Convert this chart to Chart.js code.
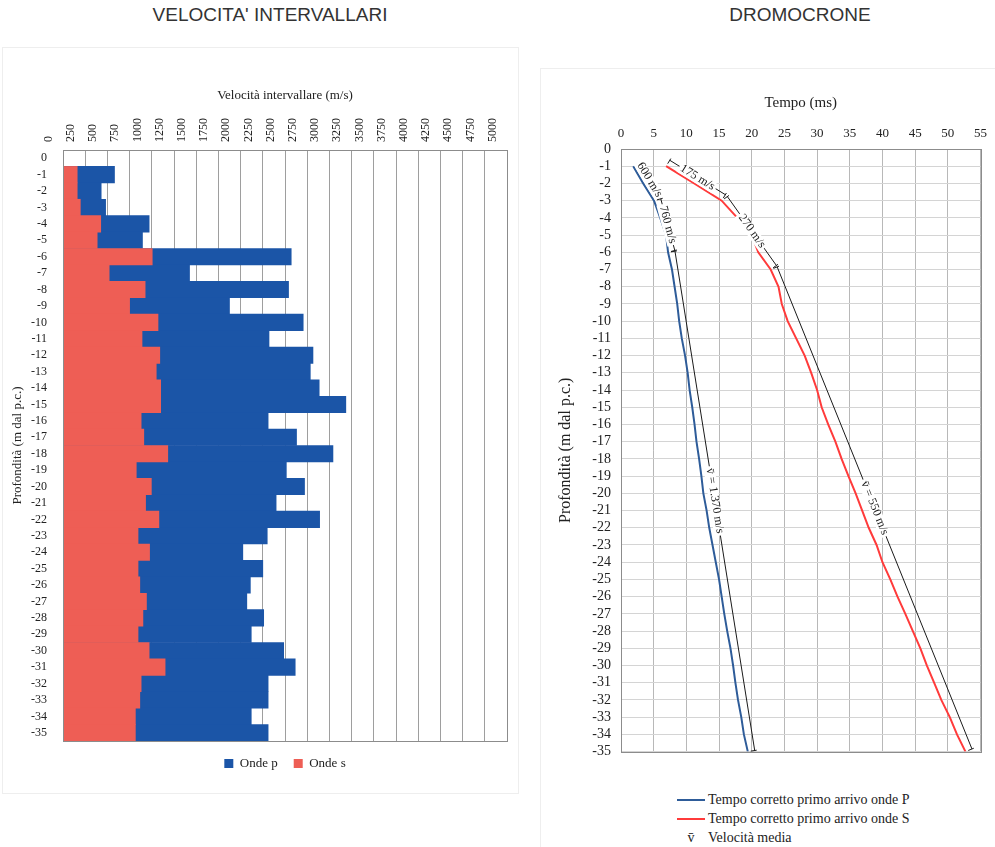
<!DOCTYPE html>
<html lang="it">
<head>
  <meta charset="UTF-8" />
  <title>Velocità intervallari e dromocrone</title>
  <script src="https://cdn.jsdelivr.net/npm/chart.js"></script>
  <style>
    body, html {
      margin: 0;
      padding: 0;
      width: 995px;
      height: 847px;
      background: #fff;
      overflow: hidden;
      font-family: 'Liberation Serif', 'Times New Roman', serif;
      color: #222;
    }
    .titolo {
      position: absolute;
      top: 4px;
      font-family: 'Liberation Sans Narrow', 'Arial Narrow', 'Liberation Sans', sans-serif;
      font-stretch: condensed;
      font-size: 19px;
      color: #333;
      transform: translateX(-50%);
      white-space: nowrap;
    }
    .cornice {
      position: absolute;
      border: 1px solid #eeeeee;
    }
    .box {
      position: absolute;
    }
    #legendaDx {
      position: absolute;
      left: 677px;
      top: 790px;
      font-size: 14px;
      line-height: 19px;
    }
    #legendaDx .riga {
      display: flex;
      align-items: center;
      white-space: nowrap;
    }
    #legendaDx .linea {
      display: inline-block;
      width: 28px;
      height: 2px;
      margin-right: 3px;
    }
    #legendaDx .simbolo {
      display: inline-block;
      width: 28px;
      margin-right: 3px;
      text-align: center;
    }
  </style>
</head>
<body>
  <div class="cornice" style="left:2px; top:47px; width:515px; height:745px;"></div>
  <div class="cornice" style="left:540px; top:68px; width:460px; height:790px;"></div>

  <div class="titolo" style="left:270px;">VELOCITA' INTERVALLARI</div>
  <div class="titolo" style="left:800px;">DROMOCRONE</div>

  <div class="box" style="left:0; top:80px; width:520px; height:710px;">
    <canvas id="graficoVelocita"></canvas>
  </div>

  <div class="box" style="left:540px; top:80px; width:455px; height:690px;">
    <canvas id="graficoDromocrone"></canvas>
  </div>

  <div id="legendaDx">
    <div class="riga"><span class="linea" id="campioneP"></span>Tempo corretto primo arrivo onde P</div>
    <div class="riga"><span class="linea" id="campioneS"></span>Tempo corretto primo arrivo onde S</div>
    <div class="riga"><span class="simbolo">v&#772;</span>Velocità media</div>
  </div>

  <script>
    // Velocità intervallari (m/s) per metro di profondità
    const profonditaLabels = ['0', '-1', '-2', '-3', '-4', '-5', '-6', '-7', '-8', '-9', '-10',
      '-11', '-12', '-13', '-14', '-15', '-16', '-17', '-18', '-19', '-20',
      '-21', '-22', '-23', '-24', '-25', '-26', '-27', '-28', '-29', '-30',
      '-31', '-32', '-33', '-34', '-35'];
    const ondeP = [null, 580, 430, 480, 970, 895, 2570, 1425, 2540, 1875, 2705,
      2320, 2815, 2785, 2885, 3185, 2310, 2630, 3040, 2515, 2720,
      2400, 2890, 2300, 2025, 2250, 2110, 2070, 2260, 2120, 2485,
      2615, 2310, 2310, 2120, 2310];
    const ondeS = [null, 160, 160, 195, 425, 385, 1005, 520, 925, 750, 1070,
      890, 1090, 1050, 1100, 1100, 880, 910, 1180, 825, 995,
      930, 1080, 845, 975, 845, 865, 940, 900, 845, 970,
      1150, 880, 865, 815, 815];

    // Dromocrone: tempi corretti (ms) ai vari metri
    const profondita = [-1, -2, -3, -4, -5, -6, -7, -8, -9, -10,
      -11, -12, -13, -14, -15, -16, -17, -18, -19, -20,
      -21, -22, -23, -24, -25, -26, -27, -28, -29, -30,
      -31, -32, -33, -34, -35];
    const tempoP = [1.87, 3.4, 5.05, 6.0, 6.9, 7.2, 7.8, 8.2, 8.6, 8.9,
      9.3, 9.8, 10.2, 10.5, 10.9, 11.25, 11.55, 11.95, 12.3, 12.6,
      13.1, 13.5, 14.0, 14.5, 15.0, 15.4, 15.8, 16.25, 16.75, 17.15,
      17.5, 17.9, 18.4, 18.8, 19.4];
    const tempoS = [6.9, 11.2, 15.4, 17.8, 20.0, 21.0, 22.9, 24.1, 24.6, 25.5,
      26.8, 28.1, 29.1, 30.0, 30.7, 31.7, 32.8, 33.75, 34.8, 35.9,
      36.9, 37.9, 39.1, 40.0, 41.2, 42.3, 43.5, 44.65, 45.8, 46.8,
      47.9, 49.0, 50.3, 51.4, 52.7];

    // tratti con velocità indicata
    const trattiOnda = ['P', 'P', 'P', 'S', 'S', 'S'];
    const trattiDa = [-1, -3, -6, -1, -3, -7];
    const trattiA = [-3, -6, -35, -3, -7, -35];
    const trattiTesto = ['600 m/s', '760 m/s', 'v\u0304 = 1.370 m/s', '175 m/s', '270 m/s', 'v\u0304 = 550 m/s'];

    const BLU_P = '#1B55A7';
    const ROSSO_S = '#EE5E55';
    const LINEA_P = '#2E5C99';
    const LINEA_S = '#FF3B3B';

    document.getElementById('campioneP').style.background = LINEA_P;
    document.getElementById('campioneS').style.background = LINEA_S;

    Chart.defaults.font.family = "'Liberation Serif', 'Times New Roman', serif";
    Chart.defaults.color = '#222';
    Chart.defaults.animation = false;

    // cornice dell'area del grafico
    const cornice = {
      id: 'cornice',
      afterDraw(chart) {
        const a = chart.chartArea;
        const ctx = chart.ctx;
        ctx.save();
        ctx.strokeStyle = '#8c8c8c';
        ctx.lineWidth = 1;
        ctx.strokeRect(Math.round(a.left) + 0.5, Math.round(a.top) + 0.5,
          Math.round(a.right - a.left), Math.round(a.bottom - a.top));
        ctx.restore();
      }
    };

    new Chart(document.getElementById('graficoVelocita'), {
      type: 'bar',
      data: {
        labels: profonditaLabels,
        datasets: [{
          label: 'Onde p',
          data: ondeP,
          backgroundColor: BLU_P,
          order: 1
        }, {
          label: 'Onde s',
          data: ondeS,
          backgroundColor: ROSSO_S,
          order: 0
        }]
      },
      options: {
        indexAxis: 'y',
        responsive: true,
        maintainAspectRatio: false,
        datasets: {
          bar: {
            grouped: false,
            categoryPercentage: 1,
            barPercentage: 1,
            borderWidth: 0
          }
        },
        layout: { padding: { left: 0, right: 13, top: 0, bottom: 10 } },
        plugins: {
          tooltip: { enabled: false },
          legend: {
            position: 'bottom',
            fullSize: false,
            labels: {
              boxWidth: 9,
              boxHeight: 9,
              padding: 16,
              font: { size: 13 },
              sort: (a, b) => a.datasetIndex - b.datasetIndex
            }
          }
        },
        scales: {
          x: {
            position: 'top',
            min: 0,
            max: 5000,
            afterFit: (s) => { s.height = 70; },
            ticks: {
              stepSize: 250,
              autoSkip: false,
              minRotation: 90,
              maxRotation: 90,
              padding: 8,
              font: { size: 12 },
              callback: (v) => String(v)
            },
            grid: { color: '#9e9e9e', drawTicks: false },
            border: { color: '#8c8c8c' },
            title: {
              display: true,
              text: 'Velocità intervallare (m/s)',
              font: { size: 13 },
              padding: { top: 8, bottom: 0 }
            }
          },
          y: {
            afterFit: (s) => { s.width = 63; },
            ticks: {
              autoSkip: false,
              padding: 8,
              font: { size: 12 }
            },
            grid: { display: false },
            border: { color: '#8c8c8c' },
            title: {
              display: true,
              text: 'Profondità (m dal p.c.)',
              font: { size: 13 },
              padding: { top: 10, bottom: 0 }
            }
          }
        }
      },
      plugins: [cornice]
    });

    // linee parallele ai tratti con la velocità scritta sopra
    const etichetteVelocita = {
      id: 'etichetteVelocita',
      afterDatasetsDraw(chart) {
        const { ctx, scales: { x, y } } = chart;
        const scarto = 7;
        ctx.save();
        ctx.strokeStyle = '#1a1a1a';
        ctx.lineWidth = 1;
        ctx.font = "12px 'Liberation Serif', serif";
        ctx.textAlign = 'center';
        ctx.textBaseline = 'middle';
        trattiTesto.forEach((testo, k) => {
          const tempi = trattiOnda[k] === 'P' ? tempoP : tempoS;
          const i0 = profondita.indexOf(trattiDa[k]);
          const i1 = profondita.indexOf(trattiA[k]);
          const ax = x.getPixelForValue(tempi[i0]), ay = y.getPixelForValue(profondita[i0]);
          const bx = x.getPixelForValue(tempi[i1]), by = y.getPixelForValue(profondita[i1]);
          const len = Math.hypot(bx - ax, by - ay);
          const ux = (bx - ax) / len, uy = (by - ay) / len;
          const nx = uy, ny = -ux;
          const a2x = ax + nx * scarto, a2y = ay + ny * scarto;
          const b2x = bx + nx * scarto, b2y = by + ny * scarto;

          ctx.beginPath();
          ctx.moveTo(a2x, a2y);
          ctx.lineTo(b2x, b2y);
          ctx.moveTo(a2x + nx * 2, a2y + ny * 2);
          ctx.lineTo(a2x - nx * 4, a2y - ny * 4);
          ctx.moveTo(b2x + nx * 2, b2y + ny * 2);
          ctx.lineTo(b2x - nx * 4, b2y - ny * 4);
          ctx.stroke();

          const w = ctx.measureText(testo).width;
          ctx.save();
          ctx.translate((a2x + b2x) / 2, (a2y + b2y) / 2);
          ctx.rotate(Math.atan2(uy, ux));
          ctx.fillStyle = '#fff';
          ctx.fillRect(-w / 2 - 2, -5, w + 4, 11);
          ctx.fillStyle = '#1a1a1a';
          ctx.fillText(testo, 0, 0);
          ctx.restore();
        });
        ctx.restore();
      }
    };

    new Chart(document.getElementById('graficoDromocrone'), {
      type: 'line',
      data: {
        datasets: [{
          label: 'Tempo corretto primo arrivo onde P',
          data: profondita.map((d, i) => ({ x: tempoP[i], y: d })),
          borderColor: LINEA_P,
          borderWidth: 2,
          pointRadius: 0,
          tension: 0
        }, {
          label: 'Tempo corretto primo arrivo onde S',
          data: profondita.map((d, i) => ({ x: tempoS[i], y: d })),
          borderColor: LINEA_S,
          borderWidth: 2,
          pointRadius: 0,
          tension: 0
        }]
      },
      options: {
        responsive: true,
        maintainAspectRatio: false,
        layout: { padding: { left: 0, right: 11, top: 0, bottom: 15 } },
        plugins: {
          tooltip: { enabled: false },
          legend: { display: false }
        },
        scales: {
          x: {
            type: 'linear',
            position: 'top',
            min: 0,
            max: 55,
            afterFit: (s) => { s.height = 69; },
            ticks: {
              stepSize: 5,
              autoSkip: false,
              maxRotation: 0,
              padding: 8,
              font: { size: 13 }
            },
            grid: { color: '#b8b8b8', drawTicks: false },
            border: { color: '#8c8c8c' },
            title: {
              display: true,
              text: 'Tempo (ms)',
              font: { size: 15 },
              padding: { top: 14, bottom: 0 }
            }
          },
          y: {
            type: 'linear',
            min: -35,
            max: 0,
            afterFit: (s) => { s.width = 81; },
            ticks: {
              stepSize: 1,
              autoSkip: false,
              padding: 10,
              font: { size: 14 }
            },
            grid: { color: '#d4d4d4', drawTicks: false },
            border: { color: '#8c8c8c' },
            title: {
              display: true,
              text: 'Profondità (m dal p.c.)',
              font: { size: 16 },
              padding: { top: 16, bottom: 0 }
            }
          }
        }
      },
      plugins: [cornice, etichetteVelocita]
    });
  </script>
</body>
</html>
